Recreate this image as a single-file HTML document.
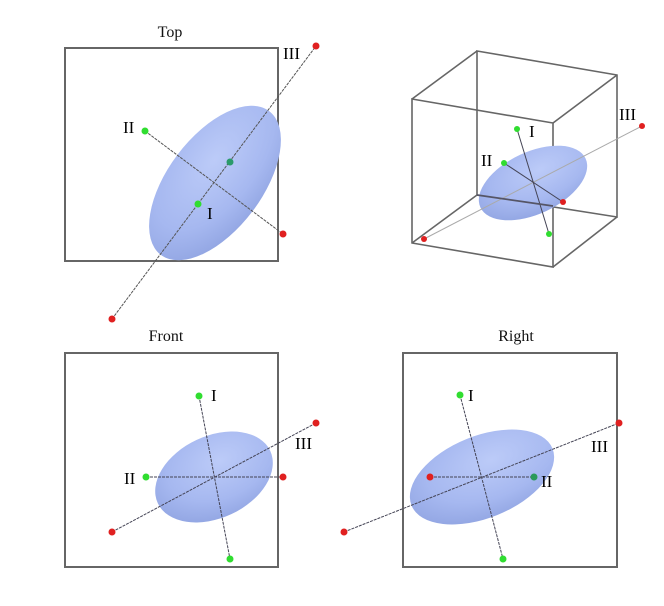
<!DOCTYPE html>
<html><head><meta charset="utf-8"><style>
html,body{margin:0;padding:0;background:#fff;}
svg{display:block;font-family:"Liberation Serif",serif;}
</style></head><body>
<svg width="664" height="606" viewBox="0 0 664 606">
<defs>
<radialGradient id="eg" cx="0.6" cy="0.35" r="0.75">
<stop offset="0" stop-color="#bccbf8"/><stop offset="0.6" stop-color="#a6b8f0"/><stop offset="1" stop-color="#8ea2e0"/>
</radialGradient>
</defs>
<g fill="none" stroke="#666" stroke-width="2">
<rect x="65" y="48" width="213" height="213"/>
<rect x="65" y="353" width="213" height="214"/>
<rect x="403" y="353" width="214" height="214"/>
<g stroke-width="1.6">
<polygon points="477,51 617,75 617,217 477,195"/>
<polygon points="412,99 553,123 553,267 412,243"/>
<line x1="477" y1="51" x2="412" y2="99"/><line x1="617" y1="75" x2="553" y2="123"/>
<line x1="617" y1="217" x2="553" y2="267"/><line x1="477" y1="195" x2="412" y2="243"/>
</g>
</g>
<g font-size="16" fill="#111">
<text x="170" y="37" text-anchor="middle">Top</text>
<text x="166" y="341" text-anchor="middle">Front</text>
<text x="516" y="341" text-anchor="middle">Right</text>
</g>
<g>
<ellipse cx="215" cy="183" rx="90" ry="47" transform="rotate(-53 215 183)" fill="url(#eg)"/>
<g stroke="#555" stroke-width="1" stroke-dasharray="3,1">
<line x1="112" y1="319" x2="316" y2="46"/><line x1="145" y1="131" x2="283" y2="234"/>
</g>
<circle cx="112" cy="319" r="3.5" fill="#e02020"/><circle cx="316" cy="46" r="3.5" fill="#e02020"/>
<circle cx="283" cy="234" r="3.5" fill="#e02020"/><circle cx="145" cy="131" r="3.5" fill="#30dd30"/>
<circle cx="198" cy="204" r="3.5" fill="#30dd30"/><circle cx="230" cy="162" r="3.5" fill="#2a9a6a"/>
<g font-size="17"><text x="123" y="133">II</text><text x="207" y="219">I</text><text x="283" y="59">III</text></g>
</g>
<g>
<ellipse cx="533" cy="183" rx="58" ry="31" transform="rotate(-25 533 183)" fill="url(#eg)"/>
<line x1="424" y1="239" x2="642" y2="126" stroke="#aaa" stroke-width="1"/>
<line x1="517" y1="129" x2="549" y2="234" stroke="#445" stroke-width="1"/>
<line x1="504" y1="163" x2="563" y2="202" stroke="#445" stroke-width="1"/>
<line x1="477" y1="195" x2="553" y2="206" stroke="#556" stroke-width="1.8"/>
<circle cx="424" cy="239" r="3" fill="#e02020"/><circle cx="642" cy="126" r="3" fill="#e02020"/>
<circle cx="563" cy="202" r="3" fill="#e02020"/><circle cx="517" cy="129" r="3" fill="#30dd30"/>
<circle cx="549" cy="234" r="3" fill="#30dd30"/><circle cx="504" cy="163" r="3" fill="#30dd30"/>
<g font-size="17"><text x="529" y="137">I</text><text x="481" y="166">II</text><text x="619" y="120">III</text></g>
</g>
<g>
<ellipse cx="214" cy="477" rx="62" ry="41" transform="rotate(-25 214 477)" fill="url(#eg)"/>
<g stroke="#445" stroke-width="1" stroke-dasharray="3,1">
<line x1="112" y1="532" x2="316" y2="423"/><line x1="199" y1="396" x2="230" y2="559"/><line x1="146" y1="477" x2="283" y2="477"/>
</g>
<circle cx="112" cy="532" r="3.5" fill="#e02020"/><circle cx="316" cy="423" r="3.5" fill="#e02020"/>
<circle cx="283" cy="477" r="3.5" fill="#e02020"/><circle cx="199" cy="396" r="3.5" fill="#30dd30"/>
<circle cx="230" cy="559" r="3.5" fill="#30dd30"/><circle cx="146" cy="477" r="3.5" fill="#30dd30"/>
<g font-size="17"><text x="211" y="401">I</text><text x="124" y="484">II</text><text x="295" y="449">III</text></g>
</g>
<g>
<ellipse cx="482" cy="477" rx="76" ry="41" transform="rotate(-22 482 477)" fill="url(#eg)"/>
<g stroke="#445" stroke-width="1" stroke-dasharray="3,1">
<line x1="344" y1="532" x2="619" y2="423"/><line x1="460" y1="395" x2="503" y2="559"/><line x1="430" y1="477" x2="534" y2="477"/>
</g>
<circle cx="344" cy="532" r="3.5" fill="#e02020"/><circle cx="619" cy="423" r="3.5" fill="#e02020"/>
<circle cx="430" cy="477" r="3.5" fill="#e02020"/><circle cx="460" cy="395" r="3.5" fill="#30dd30"/>
<circle cx="503" cy="559" r="3.5" fill="#30dd30"/><circle cx="534" cy="477" r="3.5" fill="#2a9a5a"/>
<g font-size="17"><text x="468" y="401">I</text><text x="541" y="487">II</text><text x="591" y="452">III</text></g>
</g>
</svg>
</body></html>
